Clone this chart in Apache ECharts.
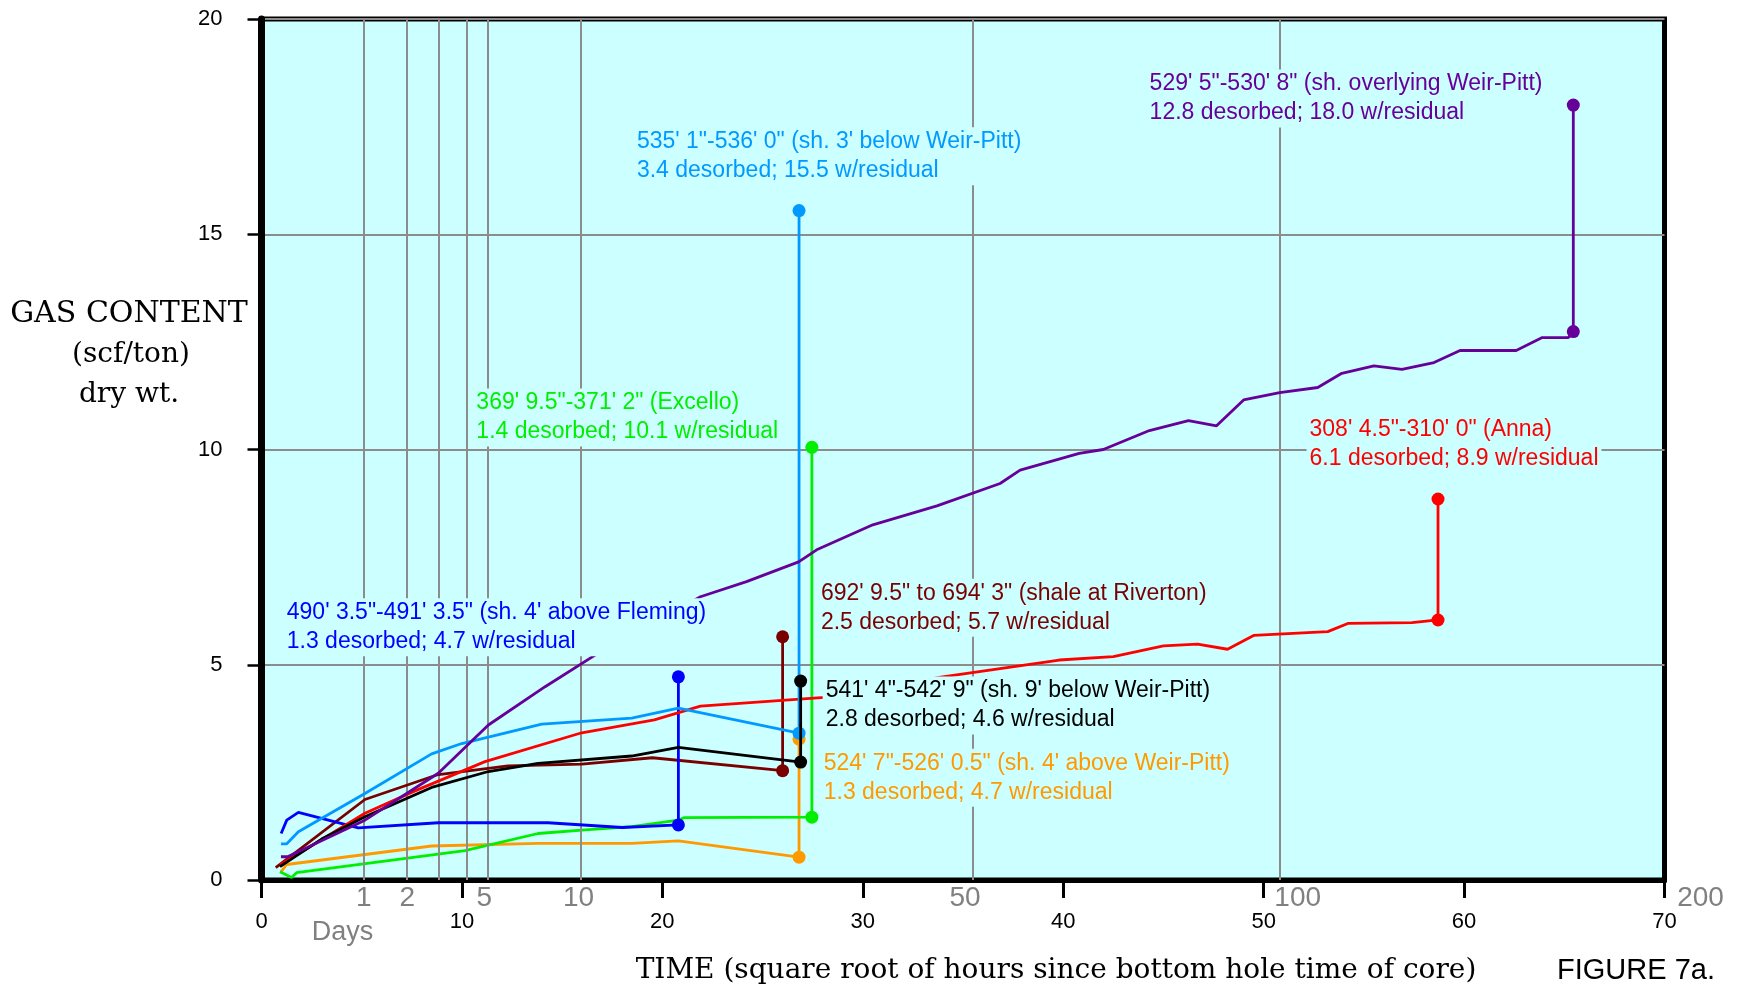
<!DOCTYPE html>
<html>
<head>
<meta charset="utf-8">
<script src="https://cdn.jsdelivr.net/npm/echarts@6/dist/echarts.min.js"></script>
<style>
html,body{margin:0;padding:0;background:#ffffff;}
#c{width:1741px;height:988px;}
</style>
</head>
<body>
<div id="c"></div>
<script>
// ---------------- data ----------------
const xTickLabels = ['0','10','20','30','40','50','60','70'];
const yTickLabels = ['0','5','10','15','20'];
// vertical "day" grid lines (1,2,3,4,5,10,50,100 days), x in sqrt(hours)
const dayGridX = [5.09, 7.27, 8.83, 10.23, 11.28, 15.92, 35.47, 50.82];
const dayLabels = ['1','2','5','10','50','100','200'];
const dayLabelX = [5.10, 7.27, 11.12, 15.82, 35.10, 51.70, 71.80];

const seriesNames = [
  "524' 7\"-526' 0.5\"", "369' 9.5\"-371' 2\"", "692' 9.5\" to 694' 3\"",
  "490' 3.5\"-491' 3.5\"", "308' 4.5\"-310' 0\"", "535' 1\"-536' 0\"",
  "541' 4\"-542' 9\"", "529' 5\"-530' 8\""
];

const orange = [[0.97,0.19],[1.26,0.36],[8.49,0.79],[13.8,0.85],[18.47,0.85],[20.8,0.91],[26.82,0.53],[26.82,3.27]];
const green = [[0.92,0.19],[1.5,0.06],[1.75,0.17],[10.15,0.68],[13.8,1.08],[15.98,1.16],[18.47,1.24],[20.8,1.39],[21.1,1.45],[27.46,1.46],[27.46,10.05]];
const maroon = [[0.71,0.29],[5.16,1.87],[8.74,2.44],[12.3,2.65],[15.98,2.69],[19.5,2.84],[26.0,2.54],[26.0,5.65]];
const blue = [[0.98,1.08],[1.26,1.39],[1.84,1.57],[4.83,1.21],[8.82,1.33],[14.3,1.33],[18.0,1.22],[20.8,1.28],[20.8,4.72]];
const red = [[0.92,0.35],[5.16,1.55],[7.66,2.07],[11.15,2.75],[15.98,3.42],[19.6,3.72],[21.9,4.04],[28.1,4.24],[33.9,4.71],[39.8,5.11],[42.5,5.19],[45.0,5.44],[46.7,5.48],[48.2,5.36],[49.5,5.68],[53.2,5.77],[54.2,5.96],[57.4,5.98],[58.7,6.04],[58.7,8.85]];
const lightBlue = [[0.97,0.84],[1.26,0.84],[1.84,1.12],[5.16,2.01],[8.49,2.93],[9.99,3.17],[13.98,3.62],[18.47,3.76],[20.8,3.99],[26.82,3.41],[26.82,15.55]];
const black = [[0.92,0.31],[3.0,0.95],[5.16,1.47],[8.49,2.15],[11.32,2.52],[13.8,2.71],[18.47,2.88],[20.8,3.08],[26.9,2.74],[26.9,4.62]];
const purple = [[0.97,0.54],[1.3,0.54],[5.16,1.39],[8.82,2.48],[11.32,3.6],[14.15,4.49],[16.8,5.27],[21.9,6.58],[24.2,6.93],[26.8,7.39],[27.7,7.67],[30.5,8.25],[33.7,8.69],[36.85,9.21],[37.85,9.52],[40.8,9.91],[42.0,10.0],[44.3,10.44],[46.25,10.67],[47.65,10.55],[49.0,11.15],[50.8,11.32],[52.7,11.44],[53.9,11.77],[55.5,11.94],[56.9,11.86],[58.5,12.02],[59.8,12.3],[62.6,12.3],[63.9,12.6],[65.2,12.6],[65.45,12.74],[65.45,18.0]];

const annotationLine1 = [
  "524' 7\"-526' 0.5\" (sh. 4' above Weir-Pitt)",
  "369' 9.5\"-371' 2\" (Excello)",
  "692' 9.5\" to 694' 3\" (shale at Riverton)",
  "490' 3.5\"-491' 3.5\" (sh. 4' above Fleming)",
  "308' 4.5\"-310' 0\" (Anna)",
  "535' 1\"-536' 0\" (sh. 3' below Weir-Pitt)",
  "541' 4\"-542' 9\" (sh. 9' below Weir-Pitt)",
  "529' 5\"-530' 8\" (sh. overlying Weir-Pitt)"
];
const annotationLine2 = [
  "1.3 desorbed; 4.7 w/residual",
  "1.4 desorbed; 10.1 w/residual",
  "2.5 desorbed; 5.7 w/residual",
  "1.3 desorbed; 4.7 w/residual",
  "6.1 desorbed; 8.9 w/residual",
  "3.4 desorbed; 15.5 w/residual",
  "2.8 desorbed; 4.6 w/residual",
  "12.8 desorbed; 18.0 w/residual"
];
// ---------------- layout / style ----------------
const seriesData = [orange, green, maroon, blue, red, lightBlue, black, purple];
const seriesColors = ['#ff9900','#00ee00','#7a0000','#0000ff','#ff0000','#0099ff','#000000','#660099'];
// annotation anchors (left of text, centre of first line) in data units
const annotationAnchor = [[28.05,2.71],[10.72,11.08],[27.91,6.66],[1.26,6.21],[52.29,10.47],[18.73,17.15],[28.15,4.39],[44.31,18.49]];

const chart = echarts.init(document.getElementById('c'), null, {renderer:'canvas', width:1741, height:988});

const series = seriesData.map((d, i) => ({
  type: 'line',
  name: seriesNames[i],
  data: d,
  z: 3 + i,
  showSymbol: true,
  showAllSymbol: true,
  symbol: 'circle',
  symbolSize: (v, p) => (p.dataIndex >= d.length - 2 ? 13 : 0),
  lineStyle: {color: seriesColors[i], width: 2.8},
  itemStyle: {color: seriesColors[i]},
  emphasis: {disabled: true},
  silent: true,
  animation: false
}));

series.unshift({
  type: 'line',
  name: 'days grid',
  data: [[0, 0]],
  symbol: 'none',
  lineStyle: {width: 0},
  z: 1,
  silent: true,
  animation: false,
  markLine: {
    silent: true,
    symbol: ['none', 'none'],
    label: {show: false},
    lineStyle: {color: '#8c8c8c', width: 2, type: 'solid'},
    emphasis: {disabled: true},
    animation: false,
    data: dayGridX.map(v => ({xAxis: v}))
  }
});

const option = {
  animation: false,
  backgroundColor: '#ffffff',
  textStyle: {fontFamily: '"Liberation Sans", Arial, sans-serif'},
  grid: {
    left: 261.5, right: 76.5, top: 19, bottom: 108,
    containLabel: false, outerBoundsMode: 'none',
    show: true, backgroundColor: '#ccffff', borderColor: '#000000', borderWidth: 5
  },
  xAxis: {
    type: 'value', min: 0, max: 70, interval: 10,
    axisLine: {show: true, onZero: false, lineStyle: {color: '#000', width: 5}},
    axisTick: {show: true, inside: false, length: 18, lineStyle: {color: '#000', width: 3}},
    axisLabel: {show: true, margin: 31, color: '#000', fontSize: 22, fontFamily: '"Liberation Sans", Arial, sans-serif',
      formatter: (v) => xTickLabels[Math.round(v / 10)] || ''},
    splitLine: {show: false}
  },
  yAxis: {
    type: 'value', min: 0, max: 20, interval: 5,
    axisLine: {show: true, onZero: false, lineStyle: {color: '#000', width: 7}},
    axisTick: {show: true, inside: false, length: 14, lineStyle: {color: '#000', width: 2.5}},
    axisLabel: {show: true, margin: 39, color: '#000', fontSize: 22, fontFamily: '"Liberation Sans", Arial, sans-serif',
      formatter: (v) => yTickLabels[Math.round(v / 5)] || ''},
    splitLine: {show: true, lineStyle: {color: '#8c8c8c', width: 2, type: 'solid'}}
  },
  series: series
};
chart.setOption(option);

function toPx(x, y) { return chart.convertToPixel({xAxisIndex: 0, yAxisIndex: 0}, [x, y]); }

const graphics = [];
// annotations
annotationAnchor.forEach((a, i) => {
  const p = toPx(a[0], a[1]);
  graphics.push({
    type: 'text', x: p[0] - 3, y: p[1] - 14.5, z: 100, silent: true,
    style: {
      text: annotationLine1[i] + '\n' + annotationLine2[i],
      fill: seriesColors[i],
      font: '23px "Liberation Sans", Arial, sans-serif',
      lineHeight: 29,
      align: 'left', verticalAlign: 'top',
      backgroundColor: '#ccffff',
      padding: [0, 3, 0, 3]
    }
  });
});
// day labels under the axis
dayLabels.forEach((t, i) => {
  const p = toPx(dayLabelX[i], -0.42);
  graphics.push({
    type: 'text', x: p[0], y: p[1], z: 100, silent: true,
    style: {text: t, fill: '#808080', font: '28px "Liberation Sans", Arial, sans-serif', align: 'center', verticalAlign: 'middle'}
  });
});
{
  const p = toPx(4.04, -1.23);
  graphics.push({type: 'text', x: p[0], y: p[1], z: 100, silent: true,
    style: {text: 'Days', fill: '#808080', font: '27px "Liberation Sans", Arial, sans-serif', align: 'center', verticalAlign: 'middle'}});
}
// axis titles
const serif = '"DejaVu Serif", "Liberation Serif", serif';
graphics.push({type: 'text', x: 129, y: 314, silent: true, style: {text: 'GAS CONTENT', fill: '#000', font: '30px ' + serif, align: 'center', verticalAlign: 'middle'}});
graphics.push({type: 'text', x: 131, y: 355, silent: true, style: {text: '(scf/ton)', fill: '#000', font: '28px ' + serif, align: 'center', verticalAlign: 'middle'}});
graphics.push({type: 'text', x: 129, y: 395, silent: true, style: {text: 'dry wt.', fill: '#000', font: '28px ' + serif, align: 'center', verticalAlign: 'middle'}});
graphics.push({type: 'text', x: 1056, y: 971, silent: true, style: {text: 'TIME (square root of hours since bottom hole time of core)', fill: '#000', font: '28px ' + serif, align: 'center', verticalAlign: 'middle'}});
graphics.push({type: 'text', x: 1636, y: 971, silent: true, style: {text: 'FIGURE 7a.', fill: '#000', font: '29px "Liberation Sans", Arial, sans-serif', align: 'center', verticalAlign: 'middle'}});

chart.setOption({graphic: graphics});
</script>
</body>
</html>
